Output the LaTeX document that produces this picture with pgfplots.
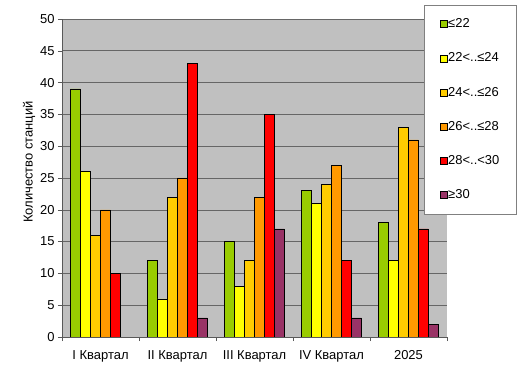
\documentclass[border=0pt]{standalone}
\usepackage{pgfplots}
\pgfplotsset{compat=1.18}
\usepackage{pgfplotstable}
\usepackage{fontspec}
\setmainfont{Liberation Sans}
\definecolor{cA}{HTML}{99CC00}
\definecolor{cB}{HTML}{FFFF00}
\definecolor{cC}{HTML}{FFCC00}
\definecolor{cD}{HTML}{FF9900}
\definecolor{cE}{HTML}{FF0000}
\definecolor{cF}{HTML}{993366}
\definecolor{bg}{HTML}{C0C0C0}
\pgfplotstableread{
x a b c d e f
0 39 26 16 20 10 0
1 12 6 22 25 43 3
2 15 8 12 22 35 17
3 23 21 24 27 12 3
4 18 12 33 31 17 2
}\data
\begin{document}
\begin{tikzpicture}
\useasboundingbox (-62bp,-42bp) rectangle (467bp,337bp);
\begin{axis}[
  at={(0,0)}, anchor=south west,
  scale only axis, width=385bp, height=318bp,
  ybar=0pt, bar width=10bp,
  xmin=-0.5, xmax=4.5, ymin=0, ymax=50,
  ytick={0,5,...,50},
  xtick={0,1,2,3,4},
  xticklabels={I Квартал, II Квартал, III Квартал, IV Квартал, 2025},
  minor xtick={-0.5,0.5,...,4.5},
  major x tick style={draw=none},
  minor tick length=4bp, major tick length=4bp,
  tick align=outside, tick pos=left,
  tick style={color=gray!70!black},
  axis lines*=left,
  axis line style={gray!70!black},
  axis background/.style={fill=bg},
  ymajorgrids, grid style={gray!80!black, line width=0.6pt},
  /pgf/number format/assume math mode=true,
  ticklabel style={font=\fontsize{13}{15}\selectfont},
  xticklabel style={yshift=-6bp},
  ylabel={Количество станций},
  ylabel style={font=\fontsize{13}{15}\selectfont, at={(ticklabel cs:0.55)}, yshift=-2bp},
  every axis plot/.append style={draw=black, line width=0.5pt},
  legend cell align=left,
  legend style={at={(rel axis cs:0.9403,1.0440)}, anchor=north west,
    font=\fontsize{13}{15}\selectfont, draw=gray, fill=white,
    inner xsep=15.5bp, inner ysep=12bp, row sep=20.2bp,
    nodes={inner sep=1bp, text height=9.5bp, text depth=2.5bp},
    /tikz/every even column/.append style={column sep=0bp}},
  legend image code/.code={\draw[#1, line width=0.5pt] (0bp,-3.5bp) rectangle (7bp,3.5bp);},
]
\addplot[fill=cA] table[x=x,y=a]{\data};
\addplot[fill=cB] table[x=x,y=b]{\data};
\addplot[fill=cC] table[x=x,y=c]{\data};
\addplot[fill=cD] table[x=x,y=d]{\data};
\addplot[fill=cE] table[x=x,y=e]{\data};
\addplot[fill=cF] table[x=x,y=f]{\data};
\legend{≤22, 22<..≤24, 24<..≤26, 26<..≤28, 28<..<30, ≥30}
\end{axis}
\end{tikzpicture}
\end{document}
